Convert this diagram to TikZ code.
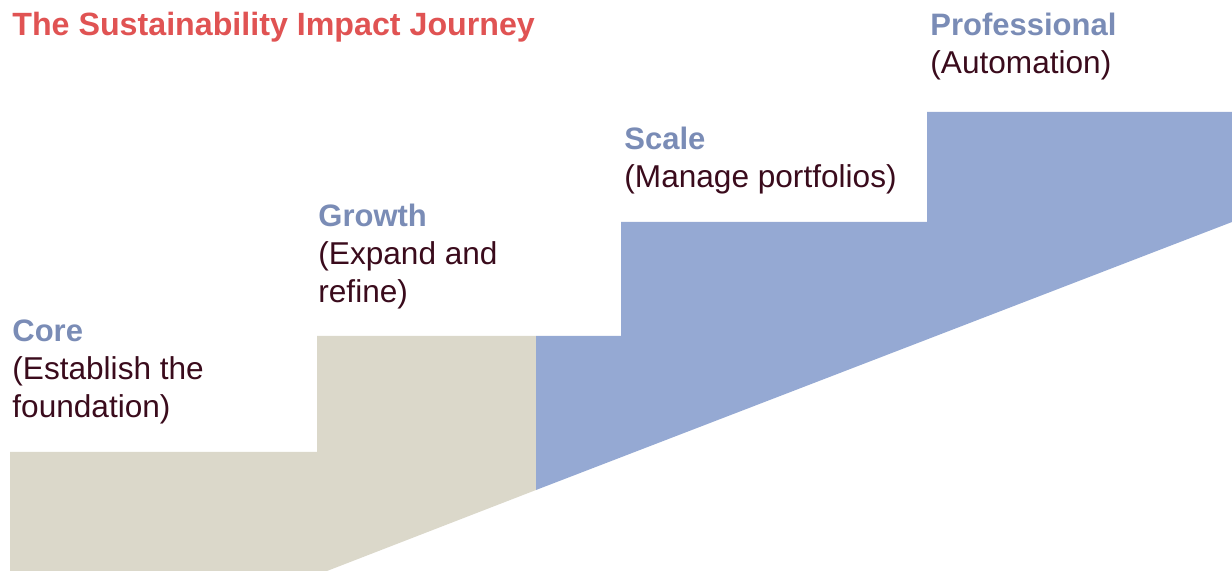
\documentclass[tikz,border=0pt]{standalone}
\usepackage{fontspec}
\setmainfont{Liberation Sans}
\usepackage{tikz}
\definecolor{titlered}{HTML}{E05353}
\definecolor{stagehead}{HTML}{7A8CB6}
\definecolor{stagetext}{HTML}{3A0B1C}
\definecolor{sand}{HTML}{DBD8CA}
\definecolor{steel}{HTML}{95A9D3}
\tikzset{
  head/.style={text=stagehead, font=\fontsize{15.5}{19}\selectfont\bfseries, anchor=base west, inner sep=0pt},
  desc/.style={text=stagetext, font=\fontsize{15.8}{19}\selectfont, anchor=base west, inner sep=0pt, align=left},
}

\begin{document}
\begin{tikzpicture}[x=0.5pt,y=-0.5pt]
\useasboundingbox (0,0) rectangle (1232,571);
% Lower steps
\fill[sand] (10,571) -- (10,452) -- (317,452) -- (317,336) -- (536,336) -- (536,490) -- (327,571) -- cycle;
% Upper steps
\fill[steel] (536,490) -- (536,336) -- (621,336) -- (621,222) -- (927,222) -- (927,112) -- (1232,112) -- (1232,222) -- cycle;

\node[head, text=titlered, font=\fontsize{16.1}{19}\selectfont\bfseries] (title) at (12,36) {The Sustainability Impact Journey};

% Stage labels (base of a two-line text is its last line)
\node[head] (core) at (12,342) {Core};
\node[desc] (coretxt) at (12,418) {(Establish the\\foundation)};
\node[head] (growth) at (318,227) {Growth};
\node[desc] (growthtxt) at (318,303) {(Expand and\\refine)};
\node[head] (scale) at (624,150) {Scale};
\node[desc] (scaletxt) at (624,188) {(Manage portfolios)};
\node[head] (pro) at (930,36) {Professional};
\node[desc] (protxt) at (930,74) {(Automation)};
\end{tikzpicture}
\end{document}
